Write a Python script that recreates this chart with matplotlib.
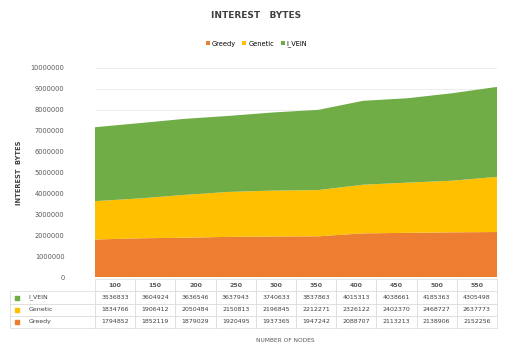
import numpy as np
import matplotlib.pyplot as plt

nodes = ['100', '150', '200', '250', '300', '350', '400', '450', '500', '550']
greedy = [1794852, 1852119, 1879029, 1920495, 1937365, 1947242, 2088707, 2113213, 2138906, 2152256]
genetic = [1834766, 1906412, 2050484, 2150813, 2196845, 2212271, 2326122, 2402370, 2468727, 2637773]
i_vein = [3536833, 3604924, 3636546, 3637943, 3740633, 3837863, 4015313, 4038661, 4185363, 4305498]
names = ['Greedy', 'Genetic', 'I_VEIN']
colors = ['#ED7D31', '#FFC000', '#70AD47']

fig = plt.figure(figsize=(5.13, 3.54), dpi=100)
ax = fig.add_axes([95/513, 1-277/354, 402/513, 209/354])

x = np.arange(len(nodes))
ax.stackplot(x, greedy, genetic, i_vein, colors=colors, labels=names, zorder=2)
ax.set_xlim(0, len(nodes) - 1)
ax.set_ylim(0, 10000000)
ax.set_yticks(np.arange(0, 10000001, 1000000))
ax.set_yticklabels([f'{v}' for v in range(0, 10000001, 1000000)], fontsize=4.8, color='#595959')
ax.tick_params(axis='y', length=0, pad=22)
ax.set_xticks([])
ax.grid(axis='y', color='#e6e6e6', lw=0.5, zorder=0)
for s in ax.spines.values():
    s.set_visible(False)

ax.set_ylabel('INTEREST  BYTES', fontsize=4.8, fontweight='bold', color='#404040', labelpad=6)

# data table
rows = [['I_VEIN'] + [str(v) for v in i_vein],
        ['Genetic'] + [str(v) for v in genetic],
        ['Greedy'] + [str(v) for v in greedy]]
cell_text = [[''] + nodes] + rows
cw = [85/402] + [40.2/402] * len(nodes)
tbl = ax.table(cellText=cell_text, colWidths=cw, cellLoc='center',
               bbox=[-85/402, (277-328)/209, 487/402, 49/209])
tbl.auto_set_font_size(False)
for (r, c), cell in tbl.get_celld().items():
    cell.set_edgecolor('#d9d9d9')
    cell.set_linewidth(0.5)
    cell.get_text().set_fontsize(4.5)
    cell.get_text().set_color('#404040')
    if c == 0:
        cell.get_text().set_ha('left')
        cell.PAD = 0.22
    if r == 0:
        cell.get_text().set_fontweight('bold')
        cell.get_text().set_color('#595959')
        if c == 0:
            cell.set_edgecolor('none')
for i, col in enumerate(colors[::-1]):
    yy = (277 - 298 - 12*i) / 209
    ax.scatter([-78/402], [yy], s=5, marker='s', color=col, transform=ax.transAxes, clip_on=False, zorder=5)

fig.text(285/513, 1-342/354, 'NUMBER OF NODES', fontsize=4.2, color='#595959', ha='center')
fig.text(0.5, 1-18/354, 'INTEREST   BYTES', fontsize=6.5, fontweight='bold', color='#404040', ha='center')
fig.legend(loc='center', bbox_to_anchor=(0.5, 1-44/354), ncol=3, fontsize=4.8, frameon=False,
           handlelength=0.6, handleheight=0.6, columnspacing=1.0, handletextpad=0.3)

fig.savefig('out.png', dpi=100)
